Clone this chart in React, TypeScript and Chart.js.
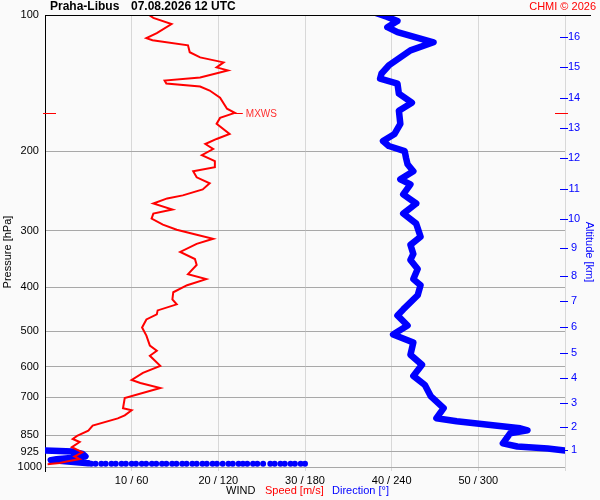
import React, { useEffect, useRef } from 'react';
import { Chart, registerables } from 'chart.js';
import type { ChartConfiguration, Plugin } from 'chart.js';

Chart.register(...registerables);

// --- data ---
const title = 'Praha-Libus';
const runLabel = '07.08.2026 12 UTC';
const credit = 'CHMI © 2026';

const pressureTicks = [100, 200, 300, 400, 500, 600, 700, 850, 925, 1000];
const speedTicks = [0, 10, 20, 30, 40, 50, 60];
const speedTickLabels = ['', '10 / 60', '20 / 120', '30 / 180', '40 / 240', '50 / 300', ''];

const altitudeKm = [1, 2, 3, 4, 5, 6, 7, 8, 9, 10, 11, 12, 13, 14, 15, 16];
const altitudePressure = [917, 814, 720, 636, 559, 489, 430, 377, 328, 282, 242, 207.5, 177.8, 152.4, 130.6, 112];

// wind speed [m/s]
const speedPressure = [
  100, 101.5, 104.7, 109.7, 112.5, 113.7, 116.7, 120.9, 124.1, 127.3,
  130.6, 132.6, 137.5, 139.6, 141.8, 143.9, 146.9, 152.3, 161.2, 164.6,
  168.9, 174.1, 183.3, 188.0, 192.9, 197.9, 204.1, 210.5, 217.1, 221.6,
  228.6, 235.7, 243.1, 250.6, 254.5, 261.2, 269.3, 274.9, 282.1, 290.9,
  298.5, 306.3, 312.6, 320.8, 334.2, 346.5, 357.3, 374.2, 383.9, 395.9,
  410.4, 425.5, 436.5, 450.2, 459.5, 471.4, 491.2, 511.7, 538.7, 552.7,
  567.1, 597.0, 618.8, 641.5, 651.4, 668.3, 703.6, 741.0, 748.6, 768.3,
  780.4, 809.5, 831.0, 853.0, 866.4, 880.1, 903.6, 927.6, 947.4, 960,
  972, 979, 983, 985,
];
const speedValues = [
  12.0, 12.5, 14.6, 12.9, 11.7, 12.4, 16.5, 16.7, 17.9, 20.6,
  19.8, 21.1, 17.9, 13.8, 14.0, 17.9, 19.0, 20.2, 21.0, 21.9,
  20.2, 19.8, 21.3, 19.8, 18.5, 19.4, 18.1, 19.6, 19.6, 17.1,
  17.5, 19.0, 18.2, 15.9, 14.1, 12.5, 14.7, 12.5, 12.3, 13.6,
  15.2, 17.5, 19.4, 17.5, 15.6, 17.3, 17.5, 16.5, 18.6, 16.4,
  14.8, 14.7, 15.2, 13.0, 12.9, 11.7, 11.2, 11.7, 12.1, 12.9,
  12.1, 13.3, 11.3, 10.0, 11.0, 13.3, 9.2, 9.0, 10.0, 9.2,
  8.4, 5.5, 5.0, 3.7, 3.2, 4.0, 3.1, 4.3, 3.4, 4.0,
  2.5, 1.7, 0.8, 0.3,
];

// wind direction [deg], upper part down to where it reaches 360
const dirPressure = [
  99.0, 101.0, 103.1, 106.4, 109.1, 114.9, 119.7, 124.1, 129.3, 134.7,
  138.2, 141.8, 149.3, 156.3, 162.8, 174.1, 183.3, 190.0, 194.9, 200.0,
  207.4, 213.8, 221.6, 230.9, 236.9, 249.4, 261.2, 274.9, 289.4, 309.4,
  322.4, 337.6, 348.2, 364.7, 383.9, 395.9, 416.8, 447.9, 461.8, 486.2,
  509.1, 530.4, 564.2, 593.9, 628.5, 658.2, 696.4, 740.7, 779.5, 791.6,
  807.9, 820.5, 829.0, 841.9, 886.3, 900.1, 909.4, 918.7,
];
const dirValues = [
  229, 237, 244, 237, 244, 269, 253, 246, 238, 233,
  232, 244, 245, 254, 245, 246, 242, 234, 238, 249,
  250, 251, 255, 246, 253, 248, 257, 248, 257, 260,
  253, 255, 253, 258, 255, 260, 258, 248, 244, 251,
  241, 255, 253, 261, 255, 263, 267, 276, 271, 285,
  310, 329, 334, 322, 317, 327, 348, 360,
];

// direction after wrapping past north
const dirWrapPressure = [918.7, 921, 924, 935, 947, 955, 961, 965, 970, 975, 980];
const dirWrapValues = [0, 10, 19, 26, 28, 18, 8, 4, 12, 22, 30];

// near-surface direction samples
const sfcPressure = 983;
const sfcDirValues = [
  32, 35, 39, 42, 46, 49, 53, 56, 60, 63, 67, 70, 74, 77, 81, 84, 88, 91, 95, 98,
  102, 105, 109, 112, 116, 119, 123, 127, 130, 134, 137, 140, 144, 147, 151, 156,
  159, 163, 166, 170, 173, 177, 180,
];

const mxwsPressure = 165;
const mxwsSpeed = 21.9;

const FONT = '"Liberation Sans", Arial, sans-serif';
const RED = '#ff0000';
const BLUE = '#0000ff';

// direction shares the 0..60 axis: 60 units = 360 deg
const dirToAxis = (d: number) => d / 6;

const overlay: Plugin<'scatter'> = {
  id: 'overlay',
  beforeDraw(chart) {
    const { ctx, width, height } = chart;
    ctx.save();
    ctx.fillStyle = '#fafafa';
    ctx.fillRect(0, 0, width, height);
    ctx.restore();
  },
  afterDraw(chart) {
    const { ctx, chartArea } = chart;
    const xs = chart.scales.x;
    const ys = chart.scales.y;
    const alt = chart.scales.alt;
    ctx.save();

    // top frame line
    const yTop = Math.round(ys.getPixelForValue(100));
    ctx.fillStyle = '#000';
    ctx.fillRect(chartArea.left, yTop, 591 - chartArea.left, 1);

    // altitude tick dashes
    ctx.fillStyle = BLUE;
    alt.ticks.forEach((t) => {
      const y = Math.round(alt.getPixelForValue(t.value));
      ctx.fillRect(chartArea.right - 5, y, 8, 1);
    });

    // max wind level
    const ym = Math.round(ys.getPixelForValue(mxwsPressure));
    const xm = xs.getPixelForValue(mxwsSpeed);
    ctx.fillStyle = RED;
    ctx.fillRect(chartArea.left - 2, ym, 13, 1);
    ctx.fillRect(chartArea.right - 10, ym, 13, 1);
    ctx.fillRect(xm, ym, 8, 1);
    ctx.fillStyle = '#ff3030';
    ctx.font = `10px ${FONT}`;
    ctx.textBaseline = 'middle';
    ctx.textAlign = 'left';
    ctx.fillText('MXWS', xm + 11, ym + 1);

    // header
    ctx.fillStyle = '#000';
    ctx.font = `bold 12px ${FONT}`;
    ctx.fillText(title, 50, 7);
    ctx.fillText(runLabel, 131, 7);
    ctx.fillStyle = RED;
    ctx.font = `11px ${FONT}`;
    ctx.textAlign = 'right';
    ctx.fillText(credit, 596, 7);

    // bottom axis title
    ctx.textAlign = 'left';
    ctx.fillStyle = '#000';
    ctx.fillText('WIND', 226, 491);
    ctx.fillStyle = RED;
    ctx.fillText('Speed [m/s]', 265, 491);
    ctx.fillStyle = BLUE;
    ctx.fillText('Direction [°]', 332, 491);

    // side axis titles
    ctx.textAlign = 'center';
    ctx.save();
    ctx.translate(8, 252);
    ctx.rotate(-Math.PI / 2);
    ctx.fillStyle = '#000';
    ctx.fillText('Pressure [hPa]', 0, 0);
    ctx.restore();
    ctx.save();
    ctx.translate(589, 252);
    ctx.rotate(Math.PI / 2);
    ctx.fillStyle = BLUE;
    ctx.fillText('Altitude [km]', 0, 0);
    ctx.restore();

    ctx.restore();
  },
};

export default function App() {
  const canvasRef = useRef<HTMLCanvasElement | null>(null);

  useEffect(() => {
    const canvas = canvasRef.current;
    if (!canvas) return;

    const speedPts = speedPressure.map((p, i) => ({ x: speedValues[i], y: p }));
    const dirPts = dirPressure.map((p, i) => ({ x: dirToAxis(dirValues[i]), y: p }));
    const wrapPts = dirWrapPressure.map((p, i) => ({ x: dirToAxis(dirWrapValues[i]), y: p }));
    const sfcPts = sfcDirValues.map((d) => ({ x: dirToAxis(d), y: sfcPressure }));

    const config: ChartConfiguration<'scatter'> = {
      type: 'scatter',
      data: {
        datasets: [
          {
            label: 'Speed',
            data: speedPts,
            showLine: true,
            borderColor: RED,
            borderWidth: 2,
            pointRadius: 0,
            order: 0,
          },
          {
            label: 'Direction',
            data: dirPts,
            showLine: true,
            borderColor: BLUE,
            borderWidth: 6.5,
            borderCapStyle: 'round',
            borderJoinStyle: 'round',
            pointRadius: 0,
            order: 1,
          },
          {
            label: 'Direction wrap',
            data: wrapPts,
            showLine: true,
            borderColor: BLUE,
            borderWidth: 6.5,
            borderCapStyle: 'round',
            borderJoinStyle: 'round',
            pointRadius: 0,
            order: 2,
          },
          {
            label: 'Direction surface',
            data: sfcPts,
            showLine: false,
            backgroundColor: BLUE,
            borderWidth: 0,
            pointRadius: 3,
            order: 3,
          },
        ],
      },
      options: {
        responsive: false,
        animation: false,
        layout: { padding: { top: 15, left: 0, right: 0, bottom: 0 } },
        plugins: {
          legend: { display: false },
          tooltip: { enabled: false },
          title: { display: false },
        },
        scales: {
          x: {
            type: 'linear',
            min: 0,
            max: 60,
            afterBuildTicks: (s: any) => {
              s.ticks = speedTicks.map((v) => ({ value: v }));
            },
            afterFit: (s: any) => {
              s.height = 29;
            },
            ticks: {
              autoSkip: false,
              maxRotation: 0,
              padding: 3,
              color: '#000',
              font: { family: FONT, size: 11 },
              callback: (_v: any, i: number) => speedTickLabels[i],
            },
            grid: { color: '#d8d8d8', drawTicks: false },
            border: { display: false },
          },
          y: {
            type: 'logarithmic',
            position: 'left',
            reverse: true,
            min: 100,
            max: 1020,
            afterBuildTicks: (s: any) => {
              s.ticks = pressureTicks.map((v) => ({ value: v }));
            },
            afterFit: (s: any) => {
              s.width = 45;
            },
            ticks: {
              autoSkip: false,
              crossAlign: 'center',
              padding: 3,
              color: '#000',
              font: { family: FONT, size: 11 },
              callback: (v: any) => String(v),
            },
            grid: {
              drawTicks: false,
              color: (c: any) => (c.tick && c.tick.value === 100 ? 'rgba(0,0,0,0)' : '#a8a8a8'),
            },
            border: { display: true, color: '#000', width: 1 },
          },
          alt: {
            type: 'logarithmic',
            position: 'right',
            reverse: true,
            min: 100,
            max: 1020,
            afterBuildTicks: (s: any) => {
              s.ticks = altitudePressure.map((v) => ({ value: v }));
            },
            afterFit: (s: any) => {
              s.width = 35;
            },
            ticks: {
              autoSkip: false,
              crossAlign: 'center',
              padding: 3,
              color: BLUE,
              font: { family: FONT, size: 11 },
              callback: (v: any) => {
                const i = altitudePressure.indexOf(Number(v));
                return i >= 0 ? String(altitudeKm[i]) : '';
              },
            },
            grid: { display: false, drawTicks: false },
            border: { display: false },
          },
        },
      },
      plugins: [overlay],
    };

    const chart = new Chart(canvas, config);
    return () => chart.destroy();
  }, []);

  return (
    <div style={{ position: 'absolute', left: 0, top: 0, width: 600, height: 500 }}>
      <canvas ref={canvasRef} width={600} height={500} style={{ display: 'block', width: 600, height: 500 }} />
    </div>
  );
}
